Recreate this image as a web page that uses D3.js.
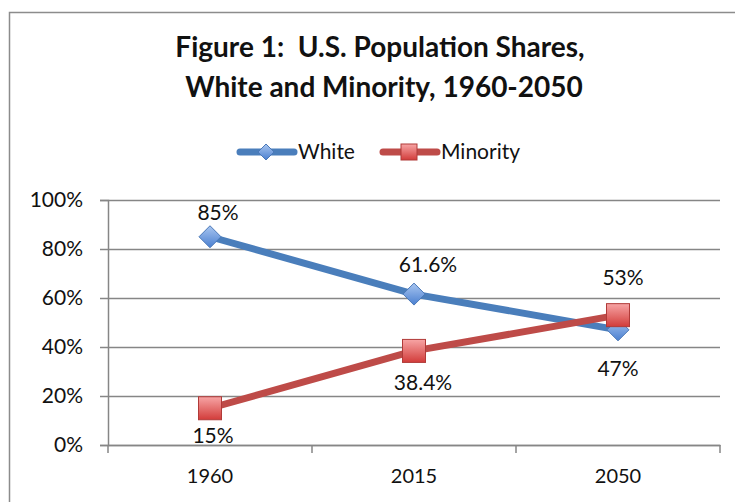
<!DOCTYPE html>
<html>
<head>
<meta charset="utf-8">
<script src="https://cdn.jsdelivr.net/npm/d3@7"></script>
<style>
  body { margin: 0; background: #fff; }
  svg { display: block; font-family: Lato, "Open Sans", sans-serif; }
  text { white-space: pre; }
</style>
</head>
<body>
<svg id="chart" width="735" height="502"></svg>
<script>
const years = ["1960", "2015", "2050"]
const white = [85, 61.6, 47]
const minority = [15, 38.4, 53]
const whiteLabels = ["85%", "61.6%", "47%"]
const minorityLabels = ["15%", "38.4%", "53%"]
const yTicks = [0, 20, 40, 60, 80, 100]

const svg = d3.select("#chart")
const defs = svg.append("defs")

const blueGrad = defs.append("linearGradient").attr("id", "blueGrad").attr("x1", 0).attr("y1", 0).attr("x2", 0).attr("y2", 1)
blueGrad.append("stop").attr("offset", "0%").attr("stop-color", "#a9c6f0")
blueGrad.append("stop").attr("offset", "100%").attr("stop-color", "#4a7fd0")
const redGrad = defs.append("linearGradient").attr("id", "redGrad").attr("x1", 0).attr("y1", 0).attr("x2", 0).attr("y2", 1)
redGrad.append("stop").attr("offset", "0%").attr("stop-color", "#f7a5a5")
redGrad.append("stop").attr("offset", "100%").attr("stop-color", "#d23c3a")

// chart frame
svg.append("rect")
  .attr("x", 9.5).attr("y", 12.5).attr("width", 740).attr("height", 500)
  .attr("fill", "none").attr("stroke", "#8c8c8c").attr("stroke-width", 1.5)

// title
svg.append("text").attr("x", 380).attr("y", 57).attr("text-anchor", "middle")
  .attr("font-size", 28).attr("font-weight", "bold").attr("fill", "#111")
  .text("Figure 1:  U.S. Population Shares,")
svg.append("text").attr("x", 384).attr("y", 97).attr("text-anchor", "middle")
  .attr("font-size", 28).attr("font-weight", "bold").attr("fill", "#111")
  .text("White and Minority, 1960-2050")

const x = d3.scaleBand().domain(years).range([108, 720])
const y = d3.scaleLinear().domain([0, 100]).range([445, 200])

// y axis with gridlines
const yAxis = svg.append("g")
  .attr("transform", "translate(108,0)")
  .call(d3.axisLeft(y).tickValues(yTicks).tickSize(8).tickPadding(17).tickFormat(d => d + "%"))
yAxis.select(".domain").attr("stroke", "#868686").attr("stroke-width", 1.5)
yAxis.selectAll(".tick line").attr("stroke", "#868686").attr("stroke-width", 1.5)
  .attr("x1", 612)
yAxis.selectAll(".tick text").attr("font-size", 21).attr("fill", "#111")
  .attr("font-family", "Lato, sans-serif")

// x axis
const xAxis = svg.append("g")
  .attr("transform", "translate(0,445)")
  .call(d3.axisBottom(x).tickSize(0).tickPadding(24))
xAxis.select(".domain").attr("stroke", "#868686").attr("stroke-width", 1.5)
xAxis.selectAll(".tick text").attr("font-size", 20).attr("fill", "#111")
  .attr("font-family", "Lato, sans-serif")
xAxis.selectAll(".bound")
  .data([...years.map(d => x(d)), x.range()[1]])
  .enter().append("line").attr("class", "bound")
  .attr("x1", d => d).attr("x2", d => d).attr("y1", 0).attr("y2", 8)
  .attr("stroke", "#868686").attr("stroke-width", 1.5)

const cx = d => x(d) + x.bandwidth() / 2
const line = d3.line().x(d => cx(d.year)).y(d => y(d.v))

const whiteData = years.map((yr, i) => ({ year: yr, v: white[i], label: whiteLabels[i] }))
const minData = years.map((yr, i) => ({ year: yr, v: minority[i], label: minorityLabels[i] }))

svg.append("path").datum(whiteData).attr("d", line)
  .attr("fill", "none").attr("stroke", "#4a7ebb").attr("stroke-width", 7).attr("stroke-linejoin", "round")
svg.append("path").datum(minData).attr("d", line)
  .attr("fill", "none").attr("stroke", "#be4b48").attr("stroke-width", 7).attr("stroke-linejoin", "round")

const diamond = (sx, sy, r) => `M${sx},${sy - r}L${sx + r},${sy}L${sx},${sy + r}L${sx - r},${sy}Z`

svg.selectAll(".wm").data(whiteData).enter().append("path").attr("class", "wm")
  .attr("d", d => diamond(cx(d.year), y(d.v), 11))
  .attr("fill", "url(#blueGrad)").attr("stroke", "#4a78b8").attr("stroke-width", 1)

svg.selectAll(".mm").data(minData).enter().append("rect").attr("class", "mm")
  .attr("x", d => cx(d.year) - 11.5).attr("y", d => y(d.v) - 11.5)
  .attr("width", 23).attr("height", 23)
  .attr("fill", "url(#redGrad)").attr("stroke", "#b03a38").attr("stroke-width", 1)

// data label offsets (dx, dy from point)
const whiteOff = [[8, -17], [14, -22], [0, 46]]
const minOff = [[3, 35], [9, 39], [5, -30]]

svg.selectAll(".wl").data(whiteData).enter().append("text").attr("class", "wl")
  .attr("x", (d, i) => cx(d.year) + whiteOff[i][0]).attr("y", (d, i) => y(d.v) + whiteOff[i][1])
  .attr("text-anchor", "middle").attr("font-size", 21).attr("fill", "#111").text(d => d.label)
svg.selectAll(".ml").data(minData).enter().append("text").attr("class", "ml")
  .attr("x", (d, i) => cx(d.year) + minOff[i][0]).attr("y", (d, i) => y(d.v) + minOff[i][1])
  .attr("text-anchor", "middle").attr("font-size", 21).attr("fill", "#111").text(d => d.label)

// legend
const legend = svg.append("g").attr("transform", "translate(0,152)")
const items = [
  { name: "White", x0: 240, color: "#4a7ebb", marker: "d" },
  { name: "Minority", x0: 383, color: "#be4b48", marker: "s" }
]
items.forEach(it => {
  legend.append("line").attr("x1", it.x0).attr("x2", it.x0 + 54).attr("y1", 0).attr("y2", 0)
    .attr("stroke", it.color).attr("stroke-width", 7).attr("stroke-linecap", "round")
  if (it.marker === "d") {
    legend.append("path").attr("d", diamond(it.x0 + 26, 0, 8))
      .attr("fill", "url(#blueGrad)").attr("stroke", "#4a78b8")
  } else {
    legend.append("rect").attr("x", it.x0 + 18).attr("y", -8).attr("width", 16).attr("height", 16)
      .attr("fill", "url(#redGrad)").attr("stroke", "#b03a38")
  }
  legend.append("text").attr("x", it.x0 + 58).attr("y", 7).attr("font-size", 21).attr("fill", "#111")
    .text(it.name)
})
</script>
</body>
</html>
